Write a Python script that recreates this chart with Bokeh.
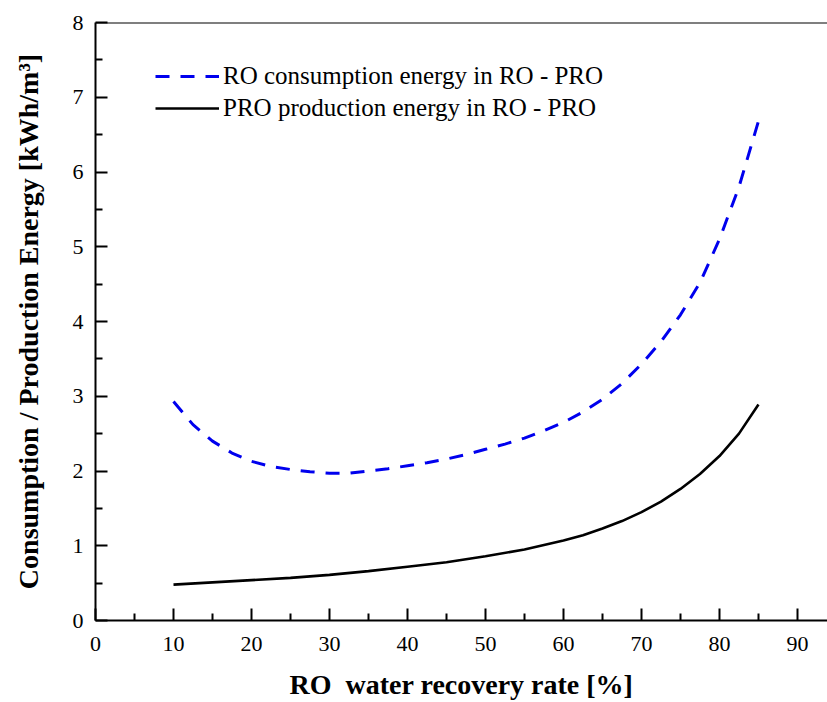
from bokeh.plotting import figure
from bokeh.models import Range1d, FixedTicker, Span, Legend, LegendItem
from bokeh.embed import file_html
from bokeh.resources import INLINE

# Data
recovery_blue = [10, 12.5, 15, 17.5, 20, 22.5, 25, 27.5, 30, 32.5, 35, 37.5, 40, 42.5,
                 45, 47.5, 50, 52.5, 55, 57.5, 60, 62.5, 65, 67.5, 70, 72.5, 75, 77.5,
                 80, 82.5, 85]
ro_consumption = [2.93, 2.62, 2.40, 2.24, 2.13, 2.06, 2.02, 1.99, 1.97, 1.97, 2.00, 2.03,
                  2.07, 2.11, 2.16, 2.22, 2.29, 2.36, 2.44, 2.54, 2.65, 2.79, 2.96, 3.17,
                  3.43, 3.73, 4.09, 4.52, 5.10, 5.80, 6.68]
recovery_black = [10, 15, 20, 25, 30, 35, 40, 45, 50, 55, 60, 62.5, 65, 67.5, 70, 72.5,
                  75, 77.5, 80, 82.5, 85]
pro_production = [0.48, 0.51, 0.54, 0.57, 0.61, 0.66, 0.72, 0.78, 0.86, 0.95, 1.07, 1.14,
                  1.23, 1.33, 1.45, 1.59, 1.76, 1.96, 2.20, 2.50, 2.89]
x_ticks = [0, 10, 20, 30, 40, 50, 60, 70, 80, 90]
x_minor = [5, 15, 25, 35, 45, 55, 65, 75, 85]
y_ticks = [0, 1, 2, 3, 4, 5, 6, 7, 8]
y_minor = [0.5, 1.5, 2.5, 3.5, 4.5, 5.5, 6.5, 7.5]
label_blue = "RO consumption energy in RO - PRO"
label_black = "PRO production energy in RO - PRO"

FONT = "Liberation Serif"

p = figure(width=827, height=702, output_backend="svg", toolbar_location=None,
           x_range=Range1d(0, 93.85), y_range=Range1d(0, 8))
p.min_border_left = 95
p.min_border_right = 0
p.min_border_top = 22
p.min_border_bottom = 82
p.outline_line_color = None
p.background_fill_color = "white"
p.border_fill_color = "white"
p.xgrid.visible = False
p.ygrid.visible = False

r_blue = p.line(recovery_blue, ro_consumption, line_color="#0000ee", line_width=3,
                line_dash="14 11")
r_black = p.line(recovery_black, pro_production, line_color="black", line_width=2.6)

p.add_layout(Span(location=8, dimension="width", line_color="black", line_width=2))

for ax in (p.xaxis[0], p.yaxis[0]):
    ax.axis_line_width = 2
    ax.axis_line_color = "black"
    ax.major_tick_in = 12
    ax.major_tick_out = 0
    ax.minor_tick_in = 7
    ax.minor_tick_out = 0
    ax.major_tick_line_width = 2
    ax.minor_tick_line_width = 2
    ax.major_label_text_font = FONT
    ax.major_label_text_font_size = "22px"
    ax.major_label_text_color = "black"
    ax.axis_label_text_font = FONT
    ax.axis_label_text_font_style = "bold"
    ax.axis_label_text_font_size = "28px"
    ax.axis_label_text_color = "black"

p.xaxis[0].ticker = FixedTicker(ticks=x_ticks, minor_ticks=x_minor)
p.yaxis[0].ticker = FixedTicker(ticks=y_ticks, minor_ticks=y_minor)
p.xaxis[0].major_label_standoff = 16
p.yaxis[0].major_label_standoff = 12
p.xaxis[0].axis_label = "RO \u00a0water recovery rate [%]"
p.yaxis[0].axis_label = "Consumption / Production Energy [kWh/m\u00b3]"
p.xaxis[0].axis_label_standoff = 15
p.yaxis[0].axis_label_standoff = 26

legend = Legend(items=[LegendItem(label=label_blue, renderers=[r_blue]),
                       LegendItem(label=label_black, renderers=[r_black])],
                location=(60, 498))
legend.border_line_color = None
legend.background_fill_alpha = 0
legend.label_text_font = FONT
legend.label_text_font_size = "25px"
legend.label_text_color = "black"
legend.glyph_width = 64
legend.glyph_height = 22
legend.label_height = 22
legend.spacing = 4
legend.padding = 0
legend.margin = 0
legend.label_standoff = 4
p.add_layout(legend)

open("out.html", "w").write(file_html(p, INLINE))
